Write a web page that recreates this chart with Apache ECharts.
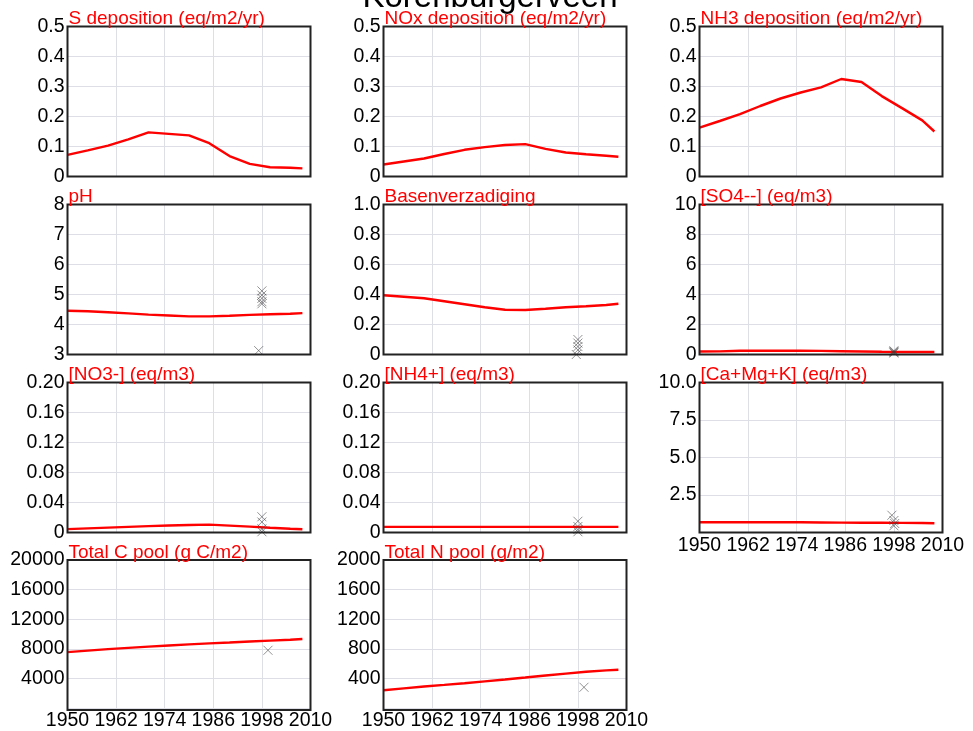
<!DOCTYPE html>
<html>
<head>
<meta charset="utf-8">
<script src="https://cdn.jsdelivr.net/npm/echarts@6/dist/echarts.min.js"></script>
<style>
  html, body { margin: 0; padding: 0; background: #fff; }
  #main { width: 973px; height: 731px; }
</style>
</head>
<body>
<div id="main"></div>
<script>
// years at which the model curves are read
var years = [1950, 1955, 1960, 1965, 1970, 1975, 1980, 1985, 1990, 1995, 2000, 2005, 2008];

// model output (red lines)
var sDep    = [0.072, 0.087, 0.103, 0.124, 0.147, 0.142, 0.137, 0.111, 0.068, 0.042, 0.031, 0.029, 0.027];
var noxDep  = [0.040, 0.050, 0.060, 0.075, 0.089, 0.098, 0.105, 0.108, 0.092, 0.080, 0.074, 0.069, 0.066];
var nh3Dep  = [0.163, 0.185, 0.208, 0.235, 0.260, 0.280, 0.297, 0.325, 0.315, 0.268, 0.228, 0.187, 0.150];
var ph      = [4.46, 4.44, 4.41, 4.37, 4.33, 4.30, 4.27, 4.27, 4.29, 4.32, 4.34, 4.36, 4.38];
var basen   = [0.395, 0.385, 0.375, 0.355, 0.335, 0.315, 0.298, 0.297, 0.305, 0.315, 0.322, 0.330, 0.338];
var so4     = [0.20, 0.21, 0.25, 0.25, 0.25, 0.25, 0.24, 0.22, 0.20, 0.18, 0.17, 0.17, 0.17];
var no3     = [0.0045, 0.0055, 0.0065, 0.0075, 0.0085, 0.0093, 0.0100, 0.0105, 0.0092, 0.0078, 0.0063, 0.0050, 0.0044];
var nh4     = [0.0075, 0.0075, 0.0075, 0.0075, 0.0075, 0.0075, 0.0075, 0.0075, 0.0075, 0.0075, 0.0075, 0.0075, 0.0075];
var caMgK   = [0.68, 0.68, 0.68, 0.68, 0.68, 0.68, 0.67, 0.66, 0.65, 0.65, 0.64, 0.63, 0.62];
var cPool   = [7550, 7750, 7950, 8130, 8300, 8450, 8600, 8730, 8850, 8980, 9100, 9220, 9320];
var nPool   = [240, 265, 290, 312, 335, 360, 385, 412, 440, 465, 490, 508, 517];

// measurements (crosses), [year, value]
var phObs    = [[1998, 5.12], [1998, 4.98], [1998, 4.87], [1998, 4.76], [1998, 4.69], [1997.2, 3.13]];
var basenObs = [[1998, 0.10], [1998, 0.076], [1998, 0.053], [1998, 0.03], [1997.6, 0.0]];
var so4Obs   = [[1998, 0.25], [1998, 0.2], [1998, 0.15], [1998, 0.1]];
var no3Obs   = [[1998, 0.021], [1998, 0.014], [1998, 0.005], [1998, 0.001]];
var nh4Obs   = [[1998, 0.015], [1998, 0.008], [1998, 0.004], [1998, 0.001]];
var caObs    = [[1997.5, 1.15], [1998, 0.8], [1998.2, 0.6], [1998, 0.45]];
var cObs     = [[1999.5, 7800]];
var nObs     = [[1999.5, 280]];

window.onload = function () {
  var chart = echarts.init(document.getElementById('main'));

  var colLeft = [67.5, 383.5, 699.5];
  var rowTop = [26.5, 204.5, 382.5, 560];
  var plotW = 243, plotH = 150;
  var font = 'Liberation Sans';

  var fmt0 = function (v) { return v === 0 ? '0' : v.toFixed(1); };
  var fmt2 = function (v) { return v === 0 ? '0' : v.toFixed(2); };
  var fmtHide0 = function (v) { return v === 0 ? '' : String(v); };
  var fmtHide0d = function (v) { return v === 0 ? '' : v.toFixed(1); };

  var panels = [
    { t: 'S deposition (eq/m2/yr)', c: 0, r: 0, d: sDep, min: 0, max: 0.5, iv: 0.1 },
    { t: 'NOx deposition (eq/m2/yr)', c: 1, r: 0, d: noxDep, min: 0, max: 0.5, iv: 0.1 },
    { t: 'NH3 deposition (eq/m2/yr)', c: 2, r: 0, d: nh3Dep, min: 0, max: 0.5, iv: 0.1 },
    { t: 'pH', c: 0, r: 1, d: ph, min: 3, max: 8, iv: 1, obs: phObs },
    { t: 'Basenverzadiging', c: 1, r: 1, d: basen, min: 0, max: 1, iv: 0.2, f: fmt0, obs: basenObs },
    { t: '[SO4--] (eq/m3)', c: 2, r: 1, d: so4, min: 0, max: 10, iv: 2, obs: so4Obs },
    { t: '[NO3-] (eq/m3)', c: 0, r: 2, d: no3, min: 0, max: 0.2, iv: 0.04, f: fmt2, obs: no3Obs },
    { t: '[NH4+] (eq/m3)', c: 1, r: 2, d: nh4, min: 0, max: 0.2, iv: 0.04, f: fmt2, obs: nh4Obs },
    { t: '[Ca+Mg+K] (eq/m3)', c: 2, r: 2, d: caMgK, min: 0, max: 10, iv: 2.5, f: fmtHide0d, obs: caObs, xl: true },
    { t: 'Total C pool (g C/m2)', c: 0, r: 3, d: cPool, min: 0, max: 20000, iv: 4000, f: fmtHide0, obs: cObs, xl: true },
    { t: 'Total N pool (g/m2)', c: 1, r: 3, d: nPool, min: 0, max: 2000, iv: 400, f: fmtHide0, obs: nObs, xl: true }
  ];

  var grid = [], xAxis = [], yAxis = [], series = [], frames = [];
  var title = [{
    text: 'Korenburgerveen',
    left: 490, top: -19, textAlign: 'center', padding: 0, z: 10,
    textStyle: { fontFamily: font, fontSize: 33, fontWeight: 'normal', color: '#000' }
  }];
  var crossPath = 'path://M0,0L10,10M10,0L0,10';

  panels.forEach(function (p, i) {
    var left = colLeft[p.c], top = rowTop[p.r];
    grid.push({ left: left, top: top, width: plotW, height: plotH });
    // dark frame drawn over the grid lines, under the panel titles
    frames.push({
      type: 'rect', z: 5, silent: true,
      shape: { x: left, y: top, width: plotW, height: plotH },
      style: { fill: null, stroke: '#222', lineWidth: 2 }
    });
    title.push({
      text: p.t, left: left + 1, top: top - 17, padding: 0, z: 10,
      textStyle: { fontFamily: font, fontSize: 19, fontWeight: 'normal', color: '#ff0000' }
    });
    xAxis.push({
      type: 'value', gridIndex: i, min: 1950, max: 2010, interval: 12,
      axisLine: { show: false }, axisTick: { show: false },
      axisLabel: {
        show: !!p.xl, margin: 3, color: '#000', fontSize: 19.5, fontFamily: font,
        formatter: function (v) { return String(v); }
      },
      splitLine: { show: true, lineStyle: { color: '#dedee6', width: 1 } }
    });
    yAxis.push({
      type: 'value', gridIndex: i, min: p.min, max: p.max, interval: p.iv,
      axisLine: { show: false }, axisTick: { show: false },
      axisLabel: {
        margin: 3, color: '#000', fontSize: 19.5, fontFamily: font,
        formatter: p.f || null
      },
      splitLine: { show: true, lineStyle: { color: '#dedee6', width: 1 } }
    });
    series.push({
      type: 'line', xAxisIndex: i, yAxisIndex: i,
      data: years.map(function (y, k) { return [y, p.d[k]]; }),
      showSymbol: false, silent: true,
      lineStyle: { color: '#ff0000', width: 2.4 },
      z: 3
    });
    if (p.obs) {
      series.push({
        type: 'scatter', xAxisIndex: i, yAxisIndex: i,
        data: p.obs,
        symbol: crossPath, symbolSize: 9,
        itemStyle: { color: 'transparent', borderColor: 'rgba(60,60,60,0.7)', borderWidth: 1 },
        z: 4
      });
    }
  });

  chart.setOption({
    animation: false,
    backgroundColor: '#fff',
    title: title,
    grid: grid,
    xAxis: xAxis,
    yAxis: yAxis,
    series: series,
    graphic: frames
  });
};
</script>
</body>
</html>
